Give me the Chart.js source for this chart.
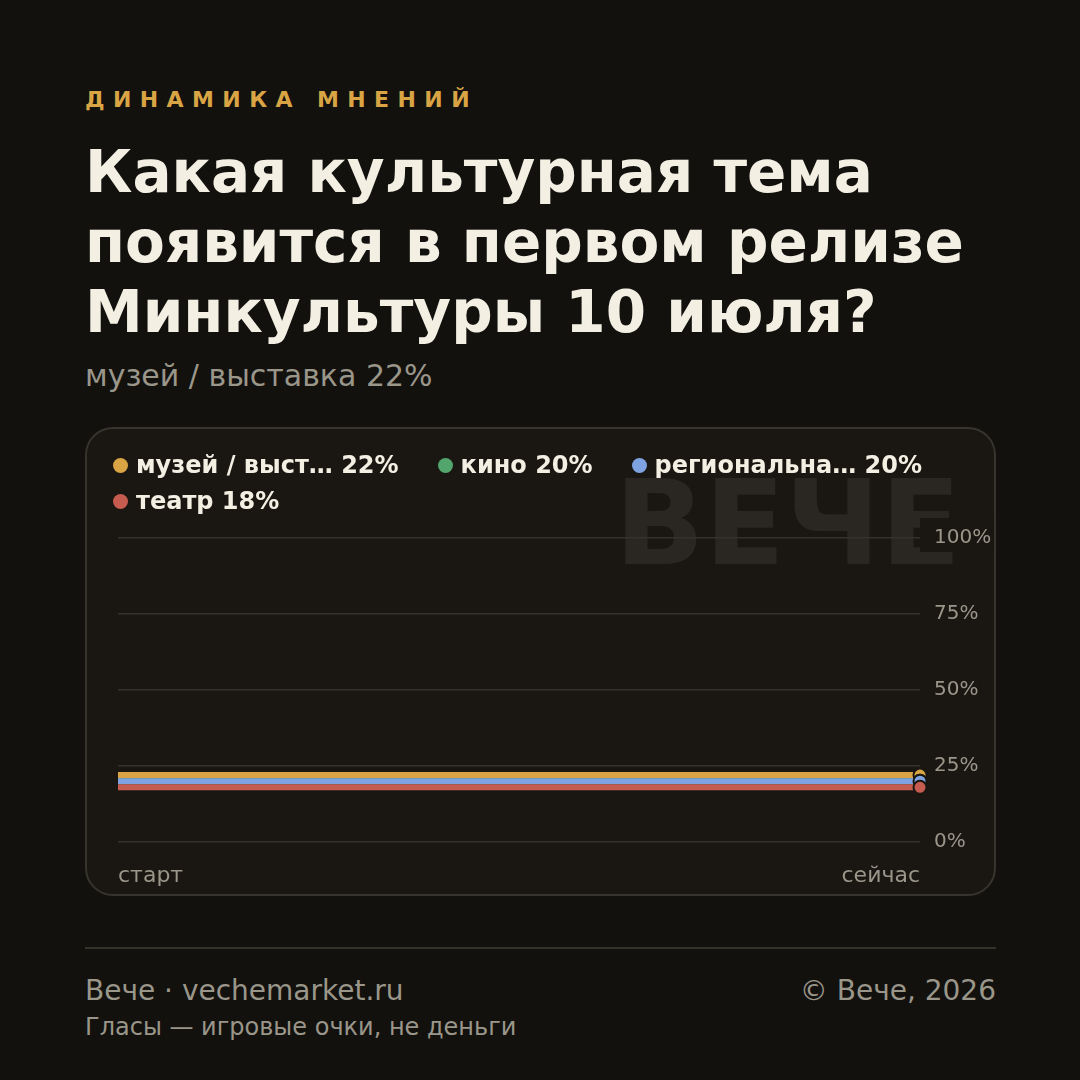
<!DOCTYPE html>
<html lang="ru">
<head>
<meta charset="utf-8">
<script src="https://cdn.jsdelivr.net/npm/chart.js@4/dist/chart.umd.min.js"></script>
<style>
  html, body { margin: 0; padding: 0; }
  body { width: 1080px; height: 1080px; background: #12110e; position: relative; overflow: hidden;
         font-family: "DejaVu Sans", sans-serif; }
  .abs { position: absolute; white-space: nowrap; }
  #kicker { left: 85px; top: 85px; font-size: 22px; font-weight: bold; letter-spacing: 8.4px; color: #d9a444; line-height: 30px; }
  #title { left: 85px; top: 137px; font-size: 58px; font-weight: bold; color: #f3efe3; line-height: 70px; white-space: pre; }
  #subtitle { left: 85px; top: 357px; font-size: 30px; color: #9a968a; line-height: 38px; }
  #card { left: 85px; top: 427px; width: 911px; height: 469px; box-sizing: border-box; border: 2px solid #37332d;
          border-radius: 28px; background: #1a1713; }
  #chartWrap { left: 85px; top: 427px; width: 911px; height: 469px; }
  #legend { left: 113px; top: 452px; width: 850px; display: flex; flex-wrap: wrap; column-gap: 39px; row-gap: 10px; }
  .item { display: flex; align-items: center; height: 26px; font-size: 24px; font-weight: bold; color: #f3efe3; line-height: 26px; }
  .dot { width: 15px; height: 15px; border-radius: 50%; margin-right: 8px; flex: none; }
  #rule { left: 85px; top: 947px; width: 911px; height: 2px; background: #35312b; }
  #foot1 { left: 85px; top: 974px; font-size: 28px; color: #9a968a; line-height: 34px; }
  #foot2 { left: 85px; top: 1012px; font-size: 24px; color: #9a968a; line-height: 30px; }
  #foot3 { right: 84px; top: 974px; font-size: 28px; color: #9a968a; line-height: 34px; }
</style>
</head>
<body>
<div id="kicker" class="abs">ДИНАМИКА МНЕНИЙ</div>
<div id="title" class="abs">Какая культурная тема
появится в первом релизе
Минкультуры 10 июля?</div>
<div id="subtitle" class="abs">музей / выставка 22%</div>
<div id="card" class="abs"></div>
<div id="chartWrap" class="abs"><canvas id="c" width="911" height="469"></canvas></div>
<div id="legend" class="abs"></div>
<div id="rule" class="abs"></div>
<div id="foot1" class="abs">Вече · vechemarket.ru</div>
<div id="foot2" class="abs">Гласы — игровые очки, не деньги</div>
<div id="foot3" class="abs">© Вече, 2026</div>

<script>
// ---- data ----
const timeLabels = ['старт', 'сейчас'];
const seriesNames = ['музей / выст…', 'кино', 'региональна…', 'театр'];
const seriesColors = ['#d9a444', '#52a56c', '#7fa3e0', '#c65c4f'];
const museumValues = [22, 22];
const cinemaValues = [20, 20];
const regionalValues = [20, 20];
const theatreValues = [18, 18];
const yTickValues = [0, 25, 50, 75, 100];
const watermarkText = 'ВЕЧЕ';

const seriesValues = [museumValues, cinemaValues, regionalValues, theatreValues];
const CARD_BG = '#1a1713';
const FONT = '"DejaVu Sans", sans-serif';

// HTML legend
const legendEl = document.getElementById('legend');
seriesNames.forEach((name, i) => {
  const vals = seriesValues[i];
  const it = document.createElement('div');
  it.className = 'item';
  it.innerHTML = '<span class="dot" style="background:' + seriesColors[i] + '"></span>' +
    name + ' ' + vals[vals.length - 1] + '%';
  legendEl.appendChild(it);
});

const watermark = {
  id: 'watermark',
  beforeDraw(chart) {
    const ctx = chart.ctx;
    ctx.save();
    ctx.font = 'bold 118px ' + FONT;
    ctx.fillStyle = '#2a2722';
    ctx.textAlign = 'right';
    ctx.textBaseline = 'alphabetic';
    ctx.fillText(watermarkText, 876, 137);
    ctx.restore();
  }
};

const n = seriesNames.length;
const datasets = seriesNames.map((name, i) => ({
  label: name,
  data: seriesValues[i],
  borderColor: seriesColors[i],
  backgroundColor: seriesColors[i],
  borderWidth: 6,
  tension: 0,
  fill: false,
  pointRadius: seriesValues[i].map((v, j) => j === seriesValues[i].length - 1 ? 6.5 : 0),
  pointHoverRadius: 0,
  pointBorderWidth: 2,
  pointBorderColor: CARD_BG,
  pointBackgroundColor: seriesColors[i],
  order: n - i
}));

new Chart(document.getElementById('c'), {
  type: 'line',
  data: { labels: timeLabels, datasets },
  plugins: [watermark],
  options: {
    responsive: false,
    animation: false,
    layout: { padding: { left: 33, top: 111, right: 0, bottom: 0 } },
    plugins: { legend: { display: false }, tooltip: { enabled: false } },
    scales: {
      x: {
        type: 'category',
        offset: false,
        grid: { display: false, drawTicks: false },
        border: { display: false },
        ticks: {
          align: 'inner', maxRotation: 0, autoSkip: false, padding: 21,
          color: '#9a968a', font: { family: FONT, size: 22 }
        },
        afterFit(scale) { scale.height = 54; }
      },
      y: {
        position: 'right',
        min: 0, max: 100,
        afterBuildTicks(scale) { scale.ticks = yTickValues.map(v => ({ value: v })); },
        grid: { color: '#35312b', lineWidth: 1.5, drawTicks: false },
        border: { display: false },
        ticks: {
          padding: 14,
          color: '#9a968a',
          font: { family: FONT, size: 20 },
          callback: v => v + '%',
          showLabelBackdrop: true,
          backdropColor: CARD_BG,
          backdropPadding: { top: 8, left: 14, right: 1, bottom: 2 }
        },
        afterFit(scale) { scale.width = 76; }
      }
    }
  }
});
</script>
</body>
</html>
